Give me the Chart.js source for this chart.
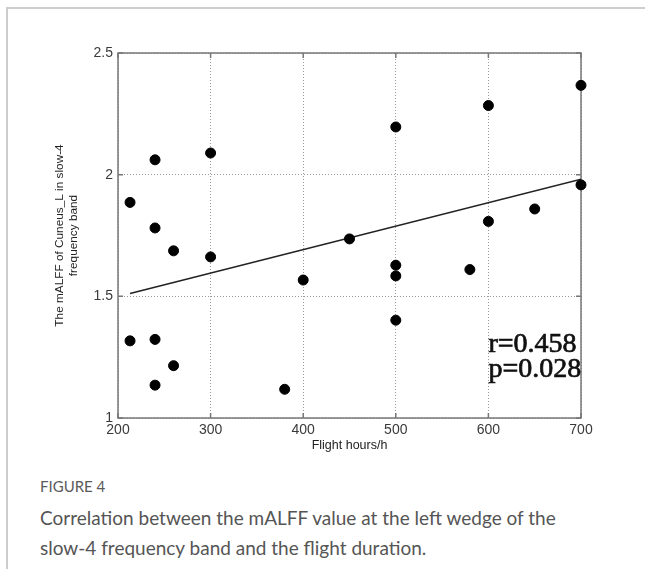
<!DOCTYPE html>
<html>
<head>
<meta charset="utf-8">
<script src="https://cdn.jsdelivr.net/npm/chart.js@4"></script>
<style>
  body { margin: 0; background: #fff; width: 645px; height: 569px; overflow: hidden; position: relative; }
  #frame { position: absolute; left: 6px; top: 7px; width: 700px; height: 600px; border-left: 2px solid #cdcdcd; border-top: 2px solid #cdcdcd; }
  #wrap { position: absolute; left: 0; top: 0; width: 645px; height: 460px; }
  #figNo { position: absolute; left: 40px; top: 477px; font: 15px Lato, sans-serif; color: #5a5a5a; }
  #caption { position: absolute; left: 40px; top: 503px; width: 545px; font: 19px/30px Lato, sans-serif; color: #555; }
</style>
</head>
<body>
<div id="frame"></div>
<div id="wrap"><canvas id="corrChart" width="645" height="460"></canvas></div>
<div id="figNo">FIGURE 4</div>
<div id="caption">Correlation between the mALFF value at the left wedge of the slow-4 frequency band and the flight duration.</div>
<script>
const flightHours = [213, 213, 240, 240, 240, 240, 260, 260, 300, 300, 380, 400,
  450, 500, 500, 500, 500, 580, 600, 600, 650, 700, 700];
const mALFF = [1.886, 1.317, 2.061, 1.781, 1.323, 1.135, 1.687, 1.215, 2.089, 1.662, 1.118, 1.567,
  1.736, 2.196, 1.628, 1.584, 1.402, 1.610, 2.284, 1.808, 1.859, 2.367, 1.958];

// fitted line as drawn in the figure
const fitHours = [213, 700];
const fitValues = [1.512, 1.981];

const statLines = ["r=0.458", "p=0.028"];

const points = flightHours.map((h, i) => ({ x: h, y: mALFF[i] }));
const fit = fitHours.map((h, i) => ({ x: h, y: fitValues[i] }));

// box around the plot, small inward ticks, and the r/p text
const boxPlugin = {
  id: "box",
  beforeDatasetsDraw(chart) {
    const { ctx, chartArea: a, scales } = chart;
    ctx.save();
    ctx.strokeStyle = "#777";
    ctx.lineWidth = 1.5;
    ctx.beginPath();
    scales.x.ticks.forEach(t => {
      const px = scales.x.getPixelForValue(t.value);
      ctx.moveTo(px, a.bottom); ctx.lineTo(px, a.bottom - 5);
      ctx.moveTo(px, a.top); ctx.lineTo(px, a.top + 5);
    });
    scales.y.ticks.forEach(t => {
      const py = scales.y.getPixelForValue(t.value);
      ctx.moveTo(a.left, py); ctx.lineTo(a.left + 5, py);
      ctx.moveTo(a.right, py); ctx.lineTo(a.right - 5, py);
    });
    ctx.stroke();
    ctx.strokeRect(a.left, a.top, a.right - a.left, a.bottom - a.top);
    ctx.restore();
  },
  afterDraw(chart) {
    const { ctx, scales } = chart;
    ctx.save();
    ctx.fillStyle = "#111";
    ctx.strokeStyle = "#111";
    ctx.lineWidth = 0.7;
    ctx.font = "28px 'Liberation Serif', serif";
    ctx.textBaseline = "middle";
    const x0 = scales.x.getPixelForValue(600);
    const ys = [1.30, 1.197];
    statLines.forEach((s, i) => {
      const y = scales.y.getPixelForValue(ys[i]);
      ctx.fillText(s, x0, y);
      ctx.strokeText(s, x0, y);
    });
    ctx.restore();
  }
};

const ctx = document.getElementById("corrChart").getContext("2d");
const chart = new Chart(ctx, {
  type: "scatter",
  data: {
    datasets: [{
      data: points,
      backgroundColor: "#000",
      borderColor: "#000",
      pointRadius: 5,
      pointHoverRadius: 5,
      clip: false
    }, {
      type: "line",
      data: fit,
      borderColor: "#222",
      borderWidth: 1.5,
      pointRadius: 0,
      fill: false
    }]
  },
  options: {
    responsive: false,
    animation: false,
    events: [],
    layout: { padding: { top: 53, right: 64, left: 0, bottom: 0 } },
    plugins: { legend: { display: false }, tooltip: { enabled: false } },
    scales: {
      x: {
        type: "linear",
        min: 200, max: 700,
        afterFit(s) { s.height = 42; },
        ticks: { stepSize: 100, padding: 4, color: "#3a3a3a", font: { family: "Liberation Sans", size: 14 } },
        grid: { color: "#999", lineWidth: 1, drawTicks: false },
        border: { display: false, dash: [1, 2] },
        title: {
          display: true, text: "Flight hours/h", color: "#222",
          font: { family: "Liberation Sans", size: 12.5, lineHeight: 1.1 },
          padding: { top: 0, bottom: 8 }
        }
      },
      y: {
        min: 1, max: 2.5,
        afterFit(s) { s.width = 118; },
        ticks: {
          stepSize: 0.5, padding: 5, color: "#3a3a3a",
          font: { family: "Liberation Sans", size: 14 },
          callback: v => String(v)
        },
        grid: { color: "#999", lineWidth: 1, drawTicks: false },
        border: { display: false, dash: [1, 2] },
        title: {
          display: true, text: ["The mALFF of Cuneus_L in slow-4", "frequency band"], color: "#222",
          font: { family: "Liberation Sans", size: 11.8, lineHeight: 1.15 },
          padding: { top: 53, bottom: 0 }
        }
      }
    }
  },
  plugins: [boxPlugin]
});
</script>
</body>
</html>
